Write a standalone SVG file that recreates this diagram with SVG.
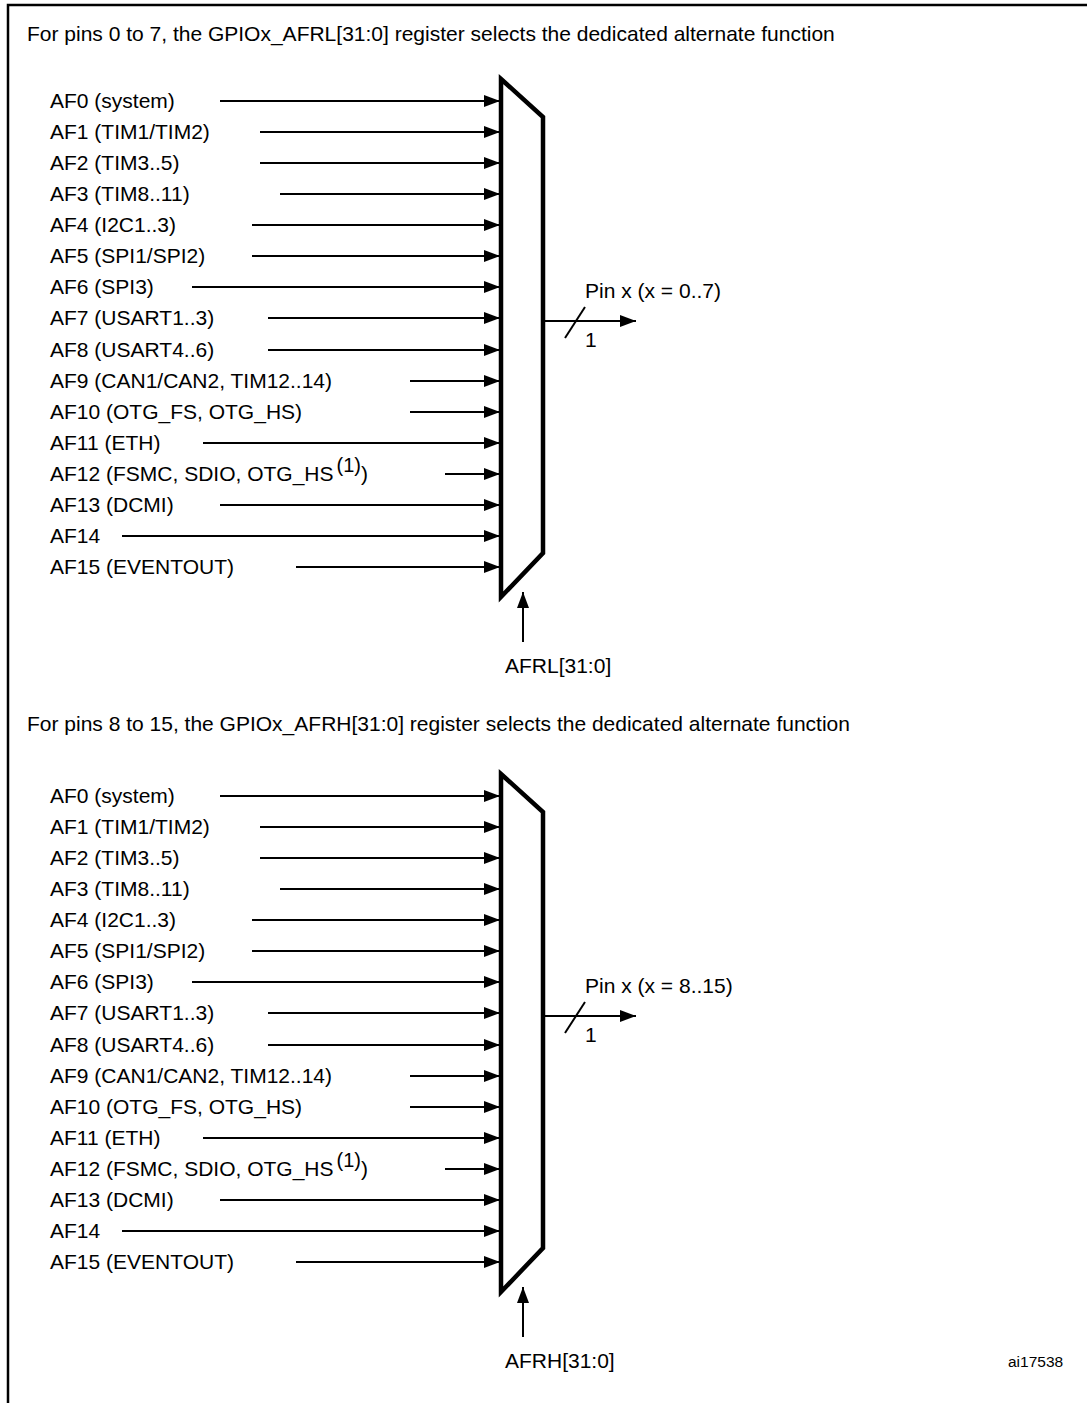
<svg xmlns="http://www.w3.org/2000/svg" width="1087" height="1403" viewBox="0 0 1087 1403">
<style>
text{font-family:"Liberation Sans",Arial,sans-serif;font-size:21px;fill:#000}
.ln{stroke:#000;stroke-width:2;fill:none}
.mux{stroke:#000;stroke-width:4.5;fill:#fff;stroke-linejoin:miter}
.frame{stroke:#000;stroke-width:2.5;fill:none}
.sm{font-size:15.5px}
</style>
<defs>
<marker id="ah" markerUnits="userSpaceOnUse" markerWidth="17" markerHeight="13" refX="16" refY="6" orient="auto">
<path d="M0,0 L16,6 L0,12 z" fill="#000"/>
</marker>
</defs>
<rect width="1087" height="1403" fill="#fff"/>
<g id="frame">
<path class="frame" d="M8,1403 V5 H1087"/>
</g>

<g id="header-top"><text x="27" y="41">For pins 0 to 7, the GPIOx_AFRL[31:0] register selects the dedicated alternate function</text></g>
<g id="header-bottom"><text x="27" y="731">For pins 8 to 15, the GPIOx_AFRH[31:0] register selects the dedicated alternate function</text></g>

<g id="mux-top"><polygon class="mux" points="501,79 543,117 543,553 501,597"/></g>
<g id="mux-bottom"><polygon class="mux" points="501,774 543,812 543,1248 501,1292"/></g>

<g id="labels-top">
<g id="t-af0"><text x="50" y="108">AF0 (system)</text></g>
<g id="t-af1"><text x="50" y="139">AF1 (TIM1/TIM2)</text></g>
<g id="t-af2"><text x="50" y="170">AF2 (TIM3..5)</text></g>
<g id="t-af3"><text x="50" y="201">AF3 (TIM8..11)</text></g>
<g id="t-af4"><text x="50" y="232">AF4 (I2C1..3)</text></g>
<g id="t-af5"><text x="50" y="263">AF5 (SPI1/SPI2)</text></g>
<g id="t-af6"><text x="50" y="294">AF6 (SPI3)</text></g>
<g id="t-af7"><text x="50" y="325">AF7 (USART1..3)</text></g>
<g id="t-af8"><text x="50" y="357">AF8 (USART4..6)</text></g>
<g id="t-af9"><text x="50" y="388">AF9 (CAN1/CAN2, TIM12..14)</text></g>
<g id="t-af10"><text x="50" y="419">AF10 (OTG_FS, OTG_HS)</text></g>
<g id="t-af11"><text x="50" y="450">AF11 (ETH)</text></g>
<g id="t-af12"><text x="50" y="481">AF12 (FSMC, SDIO, OTG_HS<tspan dx="3" dy="-9" font-size="20">(1)</tspan><tspan dy="9">)</tspan></text></g>
<g id="t-af13"><text x="50" y="512">AF13 (DCMI)</text></g>
<g id="t-af14"><text x="50" y="543">AF14</text></g>
<g id="t-af15"><text x="50" y="574">AF15 (EVENTOUT)</text></g>
<g id="t-pin"><text x="585" y="298">Pin x (x = 0..7)</text><text x="585" y="347">1</text></g>
<g id="t-sel"><text x="505" y="673">AFRL[31:0]</text></g>
</g>

<g id="labels-bottom">
<g id="b-af0"><text x="50" y="803">AF0 (system)</text></g>
<g id="b-af1"><text x="50" y="834">AF1 (TIM1/TIM2)</text></g>
<g id="b-af2"><text x="50" y="865">AF2 (TIM3..5)</text></g>
<g id="b-af3"><text x="50" y="896">AF3 (TIM8..11)</text></g>
<g id="b-af4"><text x="50" y="927">AF4 (I2C1..3)</text></g>
<g id="b-af5"><text x="50" y="958">AF5 (SPI1/SPI2)</text></g>
<g id="b-af6"><text x="50" y="989">AF6 (SPI3)</text></g>
<g id="b-af7"><text x="50" y="1020">AF7 (USART1..3)</text></g>
<g id="b-af8"><text x="50" y="1052">AF8 (USART4..6)</text></g>
<g id="b-af9"><text x="50" y="1083">AF9 (CAN1/CAN2, TIM12..14)</text></g>
<g id="b-af10"><text x="50" y="1114">AF10 (OTG_FS, OTG_HS)</text></g>
<g id="b-af11"><text x="50" y="1145">AF11 (ETH)</text></g>
<g id="b-af12"><text x="50" y="1176">AF12 (FSMC, SDIO, OTG_HS<tspan dx="3" dy="-9" font-size="20">(1)</tspan><tspan dy="9">)</tspan></text></g>
<g id="b-af13"><text x="50" y="1207">AF13 (DCMI)</text></g>
<g id="b-af14"><text x="50" y="1238">AF14</text></g>
<g id="b-af15"><text x="50" y="1269">AF15 (EVENTOUT)</text></g>
<g id="b-pin"><text x="585" y="993">Pin x (x = 8..15)</text><text x="585" y="1042">1</text></g>
<g id="b-sel"><text x="505" y="1368">AFRH[31:0]</text></g>
</g>

<g id="ref-id"><text class="sm" x="1008" y="1367">ai17538</text></g>

<g id="connectors">
<g id="conn-top">
<line class="ln" x1="220" y1="101" x2="500" y2="101" marker-end="url(#ah)"/>
<line class="ln" x1="260" y1="132" x2="500" y2="132" marker-end="url(#ah)"/>
<line class="ln" x1="260" y1="163" x2="500" y2="163" marker-end="url(#ah)"/>
<line class="ln" x1="280" y1="194" x2="500" y2="194" marker-end="url(#ah)"/>
<line class="ln" x1="252" y1="225" x2="500" y2="225" marker-end="url(#ah)"/>
<line class="ln" x1="252" y1="256" x2="500" y2="256" marker-end="url(#ah)"/>
<line class="ln" x1="192" y1="287" x2="500" y2="287" marker-end="url(#ah)"/>
<line class="ln" x1="268" y1="318" x2="500" y2="318" marker-end="url(#ah)"/>
<line class="ln" x1="268" y1="350" x2="500" y2="350" marker-end="url(#ah)"/>
<line class="ln" x1="410" y1="381" x2="500" y2="381" marker-end="url(#ah)"/>
<line class="ln" x1="410" y1="412" x2="500" y2="412" marker-end="url(#ah)"/>
<line class="ln" x1="203" y1="443" x2="500" y2="443" marker-end="url(#ah)"/>
<line class="ln" x1="445" y1="474" x2="500" y2="474" marker-end="url(#ah)"/>
<line class="ln" x1="220" y1="505" x2="500" y2="505" marker-end="url(#ah)"/>
<line class="ln" x1="122" y1="536" x2="500" y2="536" marker-end="url(#ah)"/>
<line class="ln" x1="296" y1="567" x2="500" y2="567" marker-end="url(#ah)"/>
<line class="ln" x1="545" y1="321" x2="636" y2="321" marker-end="url(#ah)"/>
<line class="ln" x1="565" y1="338" x2="585" y2="307"/>
<line class="ln" x1="523" y1="642" x2="523" y2="592" marker-end="url(#ah)"/>
</g>
<g id="conn-bottom">
<line class="ln" x1="220" y1="796" x2="500" y2="796" marker-end="url(#ah)"/>
<line class="ln" x1="260" y1="827" x2="500" y2="827" marker-end="url(#ah)"/>
<line class="ln" x1="260" y1="858" x2="500" y2="858" marker-end="url(#ah)"/>
<line class="ln" x1="280" y1="889" x2="500" y2="889" marker-end="url(#ah)"/>
<line class="ln" x1="252" y1="920" x2="500" y2="920" marker-end="url(#ah)"/>
<line class="ln" x1="252" y1="951" x2="500" y2="951" marker-end="url(#ah)"/>
<line class="ln" x1="192" y1="982" x2="500" y2="982" marker-end="url(#ah)"/>
<line class="ln" x1="268" y1="1013" x2="500" y2="1013" marker-end="url(#ah)"/>
<line class="ln" x1="268" y1="1045" x2="500" y2="1045" marker-end="url(#ah)"/>
<line class="ln" x1="410" y1="1076" x2="500" y2="1076" marker-end="url(#ah)"/>
<line class="ln" x1="410" y1="1107" x2="500" y2="1107" marker-end="url(#ah)"/>
<line class="ln" x1="203" y1="1138" x2="500" y2="1138" marker-end="url(#ah)"/>
<line class="ln" x1="445" y1="1169" x2="500" y2="1169" marker-end="url(#ah)"/>
<line class="ln" x1="220" y1="1200" x2="500" y2="1200" marker-end="url(#ah)"/>
<line class="ln" x1="122" y1="1231" x2="500" y2="1231" marker-end="url(#ah)"/>
<line class="ln" x1="296" y1="1262" x2="500" y2="1262" marker-end="url(#ah)"/>
<line class="ln" x1="545" y1="1016" x2="636" y2="1016" marker-end="url(#ah)"/>
<line class="ln" x1="565" y1="1033" x2="585" y2="1002"/>
<line class="ln" x1="523" y1="1337" x2="523" y2="1287" marker-end="url(#ah)"/>
</g>
</g>
</svg>
